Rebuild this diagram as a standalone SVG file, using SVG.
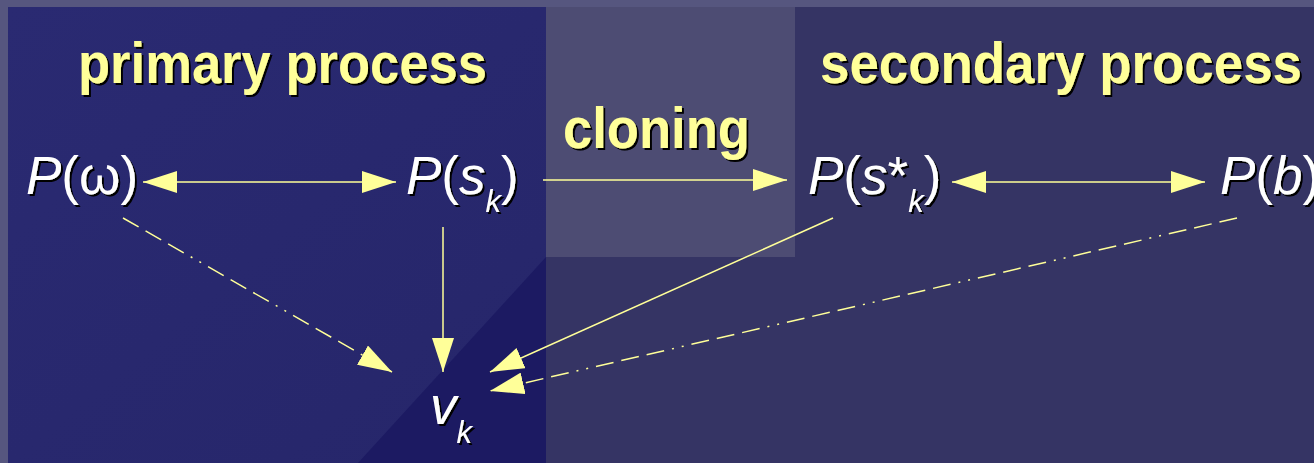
<svg xmlns="http://www.w3.org/2000/svg" width="1314" height="463" viewBox="0 0 1314 463">
<style>
.title{font-family:"Liberation Sans",Arial,sans-serif;font-weight:bold;font-size:57px;fill:#ffff99;}
.math{font-family:"Liberation Sans",Arial,sans-serif;font-size:53px;fill:#ffffff;}
.it{font-style:italic;}
.sub{font-size:31px;font-style:italic;}
.conn{stroke:#ffff99;stroke-width:1.5;fill:none;}
.dd{stroke-dasharray:18 8 18 8 18 8 2 8 2 8;}
</style>
<defs>
<filter id="sh" x="-5%" y="-10%" width="110%" height="140%">
<feDropShadow dx="2" dy="2" stdDeviation="0.3" flood-color="#000000" flood-opacity="1"/>
</filter>
<linearGradient id="lp" x1="0" y1="0" x2="1" y2="1">
<stop offset="0" stop-color="#2a2a72"/>
<stop offset="1" stop-color="#26266a"/>
</linearGradient>
<marker id="ah" viewBox="0 0 34 22" markerWidth="34" markerHeight="22" refX="34" refY="11" orient="auto-start-reverse" markerUnits="userSpaceOnUse">
<path d="M0,0 L34,11 L0,22 z" fill="#ffff99"/>
</marker>
</defs>
<g id="background">
<rect x="0" y="0" width="1314" height="463" fill="#56567f"/>
<rect x="8" y="7" width="538" height="456" fill="url(#lp)"/>
<polygon points="546,257 546,463 358,463" fill="#1c1a62"/>
<rect x="546" y="7" width="768" height="456" fill="#353464"/>
<rect x="546" y="7" width="249" height="250" fill="#4d4c73"/>
</g>
<g id="titles" filter="url(#sh)">
<text class="title" x="78" y="83" textLength="409" lengthAdjust="spacingAndGlyphs">primary process</text>
<text class="title" x="820" y="83" textLength="482" lengthAdjust="spacingAndGlyphs">secondary process</text>
<text class="title" x="563" y="148" textLength="187" lengthAdjust="spacingAndGlyphs">cloning</text>
</g>
<g id="connectors">
<line class="conn" x1="143" y1="182" x2="396" y2="182" marker-start="url(#ah)" marker-end="url(#ah)"/>
<line class="conn" x1="543" y1="180" x2="787" y2="180" marker-end="url(#ah)"/>
<line class="conn" x1="952" y1="182" x2="1205" y2="182" marker-start="url(#ah)" marker-end="url(#ah)"/>
<line class="conn" x1="443" y1="227" x2="443" y2="372" marker-end="url(#ah)"/>
<line class="conn dd" x1="123" y1="218" x2="392" y2="372" marker-end="url(#ah)"/>
<line class="conn" x1="833" y1="218" x2="490" y2="372" marker-end="url(#ah)"/>
<line class="conn dd" x1="1237" y1="218" x2="490" y2="391" marker-end="url(#ah)"/>
</g>
<g id="node-p-omega" filter="url(#sh)">
<text class="math" x="26" y="194"><tspan class="it">P</tspan>(ω)</text>
</g>
<g id="node-p-sk" filter="url(#sh)">
<text class="math" x="406" y="194"><tspan class="it">P</tspan>(<tspan class="it">s</tspan><tspan class="sub" dy="18">k</tspan><tspan dy="-18">)</tspan></text>
</g>
<g id="node-p-sstar-k" filter="url(#sh)">
<text class="math" x="808" y="194"><tspan class="it">P</tspan>(<tspan class="it">s</tspan>*<tspan class="sub" dy="18">k</tspan><tspan dy="-18">)</tspan></text>
</g>
<g id="node-p-b" filter="url(#sh)">
<text class="math" x="1220" y="194"><tspan class="it">P</tspan>(<tspan class="it">b</tspan>)</text>
</g>
<g id="node-vk" filter="url(#sh)">
<text class="math" x="430" y="424"><tspan class="it">v</tspan><tspan class="sub" dy="19">k</tspan></text>
</g>
</svg>
